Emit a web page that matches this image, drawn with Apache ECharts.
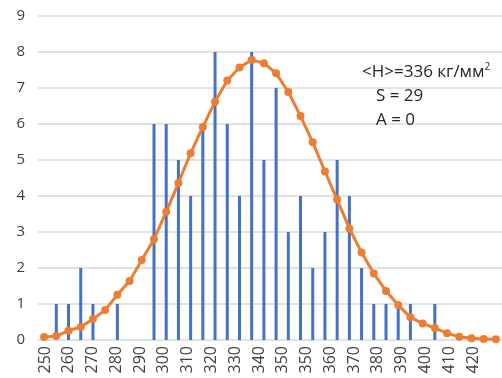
<!DOCTYPE html>
<html><head><meta charset="utf-8">
<script src="https://cdn.jsdelivr.net/npm/echarts@6/dist/echarts.min.js"></script>
<style>html,body{margin:0;padding:0;background:#fff}#c{width:502px;height:378px}</style>
</head><body><div id="c"></div>
<script>
// hardness bins (38 classes)
const bins = ['250','255','260','265','269','274','279','284','289','294','299','303','308','313','318','323','328','333','337','342','347','352','357','362','367','371','376','381','386','391','396','401','405','410','415','420','425','430'];
// measured counts per bin
const counts = [0,1,1,2,1,0,1,0,0,6,6,5,4,6,8,6,4,8,5,7,3,4,2,3,5,4,2,1,1,1,1,0,1,0,0,0,0,0];
// fitted distribution curve
const normalFit = [0.08,0.11,0.26,0.36,0.58,0.83,1.26,1.64,2.22,2.8,3.56,4.36,5.19,5.92,6.62,7.21,7.57,7.78,7.69,7.41,6.89,6.22,5.49,4.68,3.9,3.1,2.43,1.85,1.36,0.97,0.63,0.46,0.33,0.19,0.09,0.05,0.03,0.02];
// tick labels on the category axis
const tickLabels = ['250','260','270','280','290','300','310','320','330','340','350','350','360','370','380','390','400','410','420'];
const annotation = ['<H>=336 кг/мм', '2', 'S = 29', 'A = 0'];

const font = 'Open Sans';
const chart = echarts.init(document.getElementById('c'));
chart.setOption({
  animation: false,
  backgroundColor: '#fff',
  grid: [
    {left: 38, top: 16, width: 466, height: 324},
    {left: 45, top: 16, width: 428, height: 324}
  ],
  xAxis: [
    {type: 'category', gridIndex: 0, data: bins, boundaryGap: true,
     axisLine: {show: false}, axisTick: {show: false}, axisLabel: {show: false}, splitLine: {show: false}},
    {type: 'category', gridIndex: 1, data: tickLabels, boundaryGap: false,
     axisLine: {show: false}, axisTick: {show: false}, splitLine: {show: false},
     axisLabel: {rotate: 90, interval: 0, margin: 6, fontSize: 16, color: '#404040', fontFamily: font}}
  ],
  yAxis: [
    {type: 'value', gridIndex: 0, min: 0, max: 9, interval: 1,
     axisLine: {show: false}, axisTick: {show: false},
     splitLine: {lineStyle: {color: '#d9d9d9', width: 1.5}},
     axisLabel: {margin: 13, fontSize: 15, color: '#404040', fontFamily: font}},
    {type: 'value', gridIndex: 1, min: 0, max: 9, show: false}
  ],
  series: [
    {type: 'bar', xAxisIndex: 0, yAxisIndex: 0, data: counts, barWidth: 3,
     itemStyle: {color: '#4472C4'}, z: 2},
    {type: 'line', xAxisIndex: 0, yAxisIndex: 0, data: normalFit,
     symbol: 'circle', symbolSize: 8, showSymbol: true,
     lineStyle: {color: '#ED7D31', width: 3}, itemStyle: {color: '#ED7D31'}, z: 3}
  ],
  graphic: [
    {type: 'text', left: 362, top: 62, z: 10,
     style: {text: '{a|' + annotation[0] + '}{s|' + annotation[1] + '}',
       rich: {a: {fontSize: 17, fontFamily: font, fill: '#262626', color: '#262626'},
              s: {fontSize: 10, fontFamily: font, fill: '#262626', color: '#262626', verticalAlign: 'top', padding: [0,0,10,0]}}}},
    {type: 'text', left: 376, top: 88, z: 10,
     style: {text: annotation[2], fontSize: 17, fontFamily: font, fill: '#262626'}},
    {type: 'text', left: 376, top: 112, z: 10,
     style: {text: annotation[3], fontSize: 17, fontFamily: font, fill: '#262626'}}
  ]
});
</script></body></html>
